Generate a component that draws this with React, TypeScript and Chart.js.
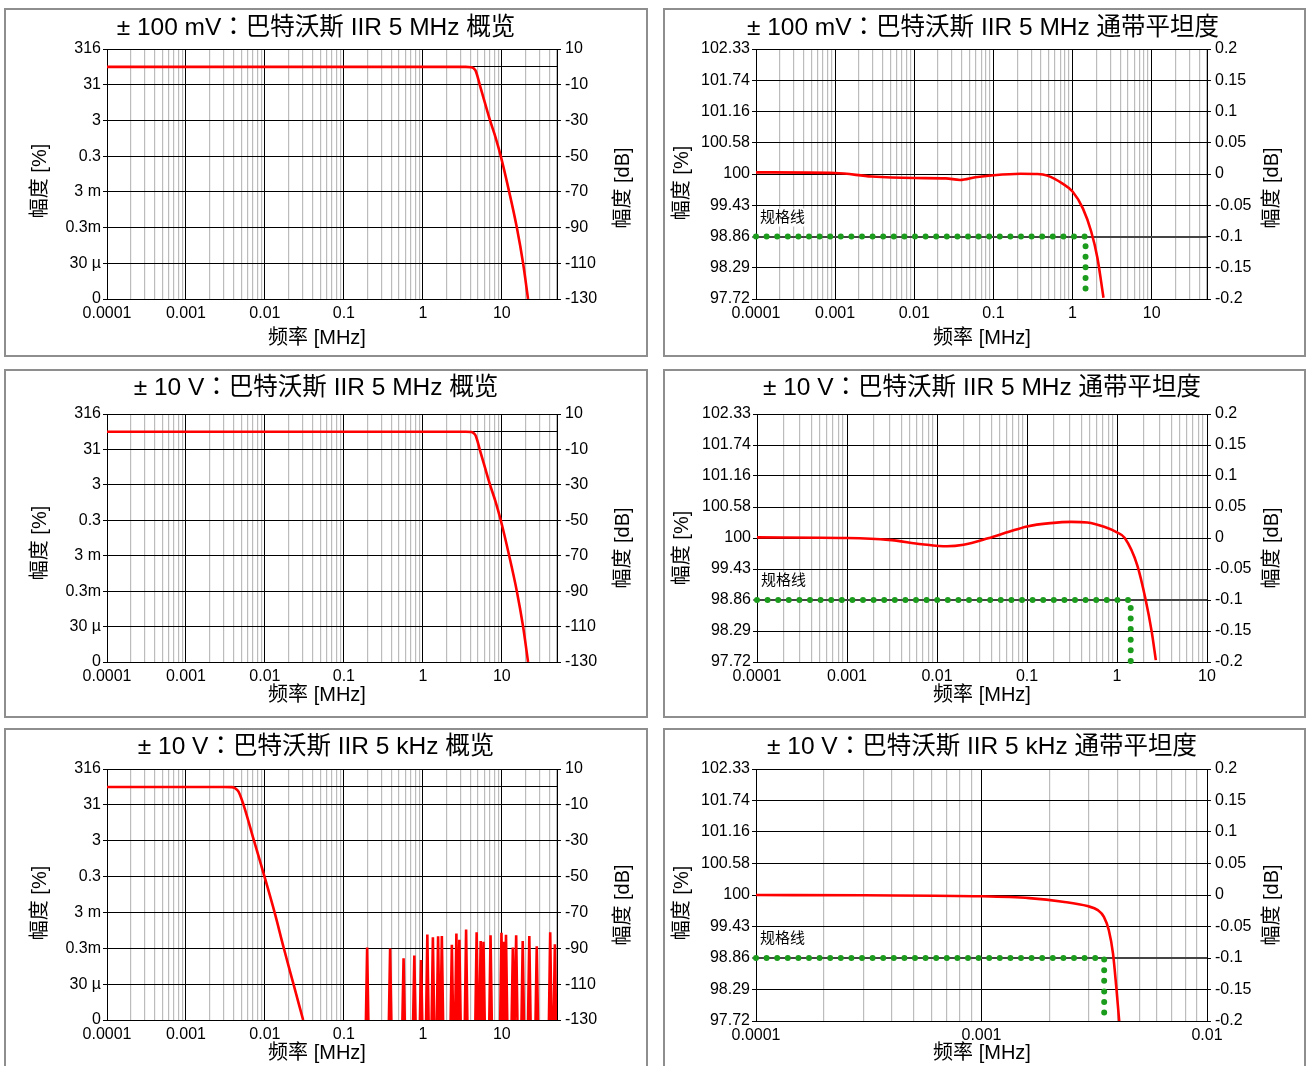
import React, { useEffect, useRef } from 'react';
import { Chart, registerables } from 'chart.js';

Chart.register(...registerables);

const FONT = "'Liberation Sans', Arial, 'Noto Sans CJK SC', sans-serif";
const TITLE_FONT = "'Liberation Sans', Arial, 'Noto Sans CJK JP', 'Noto Sans CJK SC', sans-serif";

// ---------- axis ticks / labels ----------
const X_MIN = 0.0001;
const X_DECADES = [0.0001, 0.001, 0.01, 0.1, 1, 10];
const X_DECADE_LABELS = ['0.0001', '0.001', '0.01', '0.1', '1', '10'];

const OV_DB_TICKS = [10, -10, -30, -50, -70, -90, -110, -130];
const OV_PCT_LABELS = ['316', '31', '3', '0.3', '3 m', '0.3m', '30 µ', '0'];
const OV_DB_LABELS = ['10', '-10', '-30', '-50', '-70', '-90', '-110', '-130'];
const OV_MIN = -130;
const OV_MAX = 10;
const REF_DB = 0;

const PB_DB_TICKS = [0.2, 0.15, 0.1, 0.05, 0, -0.05, -0.1, -0.15, -0.2];
const PB_PCT_LABELS = ['102.33', '101.74', '101.16', '100.58', '100', '99.43', '98.86', '98.29', '97.72'];
const PB_DB_LABELS = ['0.2', '0.15', '0.1', '0.05', '0', '-0.05', '-0.1', '-0.15', '-0.2'];
const PB_MIN = -0.2;
const PB_MAX = 0.2;
const SPEC_DB = -0.1;
const SPEC_LABEL = '规格线';

const TITLES = [
  '± 100 mV：巴特沃斯 IIR 5 MHz 概览',
  '± 100 mV：巴特沃斯 IIR 5 MHz 通带平坦度',
  '± 10 V：巴特沃斯 IIR 5 MHz 概览',
  '± 10 V：巴特沃斯 IIR 5 MHz 通带平坦度',
  '± 10 V：巴特沃斯 IIR 5 kHz 概览',
  '± 10 V：巴特沃斯 IIR 5 kHz 通带平坦度',
];
const LEFT_TITLE = '幅度 [%]';
const RIGHT_TITLE = '幅度 [dB]';
const BOTTOM_TITLE = '频率 [MHz]';

// ---------- data (frequency in MHz, amplitude in dB) ----------
// ±100 mV, 5 MHz overview
const OV1_FREQ = [0.0001, 1, 3.5, 4.1, 4.4, 4.64, 4.9, 5.25, 6.1, 7.1, 8.4, 9.7, 12.4, 15.5, 18.6, 21.5];
const OV1_DB = [0, 0, 0, -0.2, -0.8, -2, -5, -10, -20, -30, -40, -50, -70, -90, -110, -130];
// ±10 V, 5 MHz overview
const OV2_FREQ = [0.0001, 1, 3.5, 4.1, 4.4, 4.64, 4.9, 5.25, 6.1, 7.1, 8.4, 9.7, 12.4, 15.5, 18.6, 21.5];
const OV2_DB = [0, 0, 0, -0.2, -0.8, -2, -5, -10, -20, -30, -40, -50, -70, -90, -110, -130];
// ±10 V, 5 kHz overview
const OV3_FREQ = [0.0001, 0.003, 0.0038, 0.00415, 0.00463, 0.00536, 0.00727, 0.00988, 0.01326, 0.01735, 0.023, 0.0305];
const OV3_DB = [0, 0, -0.1, -0.6, -2.6, -10, -30, -50, -70, -90, -110, -130];
// noise spikes (peak frequency, peak level) in the 5 kHz overview
const NOISE_FREQ = [0.197, 0.385, 0.57, 0.78, 0.95, 1.14, 1.34, 1.56, 1.74, 2.33, 2.66, 2.9, 3.53, 4.8, 5.4, 5.86, 7.2, 9.9, 10.7, 11.3, 13.8, 15.2, 18.4, 22.3, 27.7, 41, 47];
const NOISE_DB = [-89.6, -90.2, -95.6, -94.1, -96.5, -82.3, -83.8, -83.3, -83.1, -88.1, -81.8, -85.3, -79.5, -81.0, -85.9, -86.4, -82.7, -81.4, -86.3, -82.5, -89.6, -82.7, -85.9, -83.1, -88.9, -81.0, -87.8];
const NOISE_FLOOR_DB = -140;
const SPIKE_W = 1.045;

// ±100 mV passband
const PB1_FREQ = [0.0001, 0.001, 0.0029, 0.01, 0.025, 0.038, 0.059, 0.1, 0.22, 0.36, 0.48, 0.74, 1.0, 1.35, 1.72, 2.06, 2.46];
const PB1_DB = [0.0026, 0.0016, -0.004, -0.0064, -0.007, -0.0095, -0.0053, -0.002, 0.0005, 0, -0.0026, -0.015, -0.028, -0.055, -0.092, -0.134, -0.198];
const SPEC1_EDGE = 1.46;
// ±10 V 5 MHz passband
const PB2_FREQ = [0.0001, 0.001, 0.0029, 0.0068, 0.0129, 0.0197, 0.037, 0.063, 0.1, 0.183, 0.31, 0.47, 0.72, 1.0, 1.22, 1.68, 2.07, 2.43, 2.7];
const PB2_DB = [0.001, 0, -0.003, -0.01, -0.0134, -0.011, -0.0005, 0.01, 0.0187, 0.024, 0.026, 0.025, 0.018, 0.009, 0, -0.044, -0.098, -0.151, -0.197];
const SPEC2_EDGE = 1.42;
// ±10 V 5 kHz passband
const PB3_FREQ = [0.0001, 0.0003, 0.001, 0.00163, 0.00229, 0.00295, 0.00328, 0.00349, 0.00367, 0.00383, 0.00396, 0.00408];
const PB3_DB = [0, -0.0005, -0.002, -0.005, -0.0106, -0.0176, -0.024, -0.0346, -0.056, -0.093, -0.146, -0.2];
const SPEC3_EDGE = 0.0035;

// ---------- helpers ----------
type Pt = { x: number; y: number };
const pts = (xs: number[], ys: number[]): Pt[] => xs.map((x, i) => ({ x, y: ys[i] }));
const spikes = (fs: number[], ps: number[]): Pt[] =>
  fs.flatMap((f, i) => [
    { x: f / SPIKE_W, y: NOISE_FLOOR_DB },
    { x: f, y: ps[i] },
    { x: f * SPIKE_W, y: NOISE_FLOOR_DB },
  ]);
const specPts = (edge: number): Pt[] => [
  { x: X_MIN, y: SPEC_DB },
  { x: edge, y: SPEC_DB },
  { x: edge, y: PB_MIN },
];

const isDecade = (v: number) => Math.abs(Math.log10(v) - Math.round(Math.log10(v))) < 1e-6;
const xGridValues = (min: number, max: number) => {
  const out: number[] = [];
  for (let e = Math.floor(Math.log10(min)); e <= Math.ceil(Math.log10(max)); e++) {
    for (let m = 1; m <= 9; m++) {
      const v = m * Math.pow(10, e);
      if (v >= min * (1 - 1e-9) && v <= max * (1 + 1e-9)) out.push(v);
    }
  }
  return out;
};

type PanelCfg = {
  box: number[]; // left, top, width, height (page)
  plot: number[]; // left, top, right, bottom (page)
  title: string;
  titlePos: number[];
  leftPos: number[];
  rightPos: number[];
  bottomPos: number[];
  kind: 'ov' | 'pb';
  xMax: number;
  curves: Pt[][];
  linear?: Pt[];
  spec?: number;
};

const PANELS: PanelCfg[] = [
  {
    box: [4, 8, 644, 349], plot: [107, 49, 557, 299], title: TITLES[0], titlePos: [316, 28],
    leftPos: [40, 181], rightPos: [623, 188], bottomPos: [317, 338], kind: 'ov', xMax: 50,
    curves: [pts(OV1_FREQ, OV1_DB)],
  },
  {
    box: [663, 8, 643, 349], plot: [756, 49, 1207, 299], title: TITLES[1], titlePos: [983, 28],
    leftPos: [682, 183], rightPos: [1272, 188], bottomPos: [982, 338], kind: 'pb', xMax: 50,
    curves: [pts(PB1_FREQ, PB1_DB)], spec: SPEC1_EDGE,
  },
  {
    box: [4, 369, 644, 349], plot: [107, 414, 557, 662], title: TITLES[2], titlePos: [316, 388],
    leftPos: [40, 543], rightPos: [623, 548], bottomPos: [317, 695], kind: 'ov', xMax: 50,
    curves: [pts(OV2_FREQ, OV2_DB)],
  },
  {
    box: [663, 369, 643, 349], plot: [757, 414, 1207, 662], title: TITLES[3], titlePos: [982, 388],
    leftPos: [682, 548], rightPos: [1272, 548], bottomPos: [982, 695], kind: 'pb', xMax: 10,
    curves: [pts(PB2_FREQ, PB2_DB)], spec: SPEC2_EDGE,
  },
  {
    box: [4, 728, 644, 349], plot: [107, 769, 557, 1020], title: TITLES[4], titlePos: [316, 747],
    leftPos: [40, 903], rightPos: [623, 905], bottomPos: [317, 1053], kind: 'ov', xMax: 50,
    curves: [pts(OV3_FREQ, OV3_DB)], linear: spikes(NOISE_FREQ, NOISE_DB),
  },
  {
    box: [663, 728, 643, 349], plot: [756, 769, 1207, 1021], title: TITLES[5], titlePos: [982, 747],
    leftPos: [682, 903], rightPos: [1272, 905], bottomPos: [982, 1053], kind: 'pb', xMax: 0.01,
    curves: [pts(PB3_FREQ, PB3_DB)], spec: SPEC3_EDGE,
  },
];

function buildChart(canvas: HTMLCanvasElement, cfg: PanelCfg) {
  const [bl, bt, bw, bh] = cfg.box;
  const cx = bl + 2;
  const cy = bt + 2;
  const cw = bw - 4;
  const ch = bh - 4;
  const [pl, pt, pr, pb] = cfg.plot;
  const ov = cfg.kind === 'ov';
  const yTicks = ov ? [...OV_DB_TICKS, REF_DB] : PB_DB_TICKS;
  const leftLabels = ov ? OV_PCT_LABELS : PB_PCT_LABELS;
  const rightLabels = ov ? OV_DB_LABELS : PB_DB_LABELS;
  const yMin = ov ? OV_MIN : PB_MIN;
  const yMax = ov ? OV_MAX : PB_MAX;
  const tickFont = { size: 16, family: FONT };

  const isRef = (v: number) => ov && Math.abs(v - REF_DB) < 1e-9;
  const isSpec = (v: number) => !ov && Math.abs(v - SPEC_DB) < 1e-9;

  const datasets: any[] = [];
  cfg.curves.forEach((c) =>
    datasets.push({
      data: c, borderColor: '#ff0000', borderWidth: 2.6, pointRadius: 0,
      cubicInterpolationMode: 'monotone', clip: 0,
    })
  );
  if (cfg.linear) {
    datasets.push({ data: cfg.linear, borderColor: '#ff0000', borderWidth: 2.6, pointRadius: 0, tension: 0, clip: 0 });
  }
  if (cfg.spec !== undefined) {
    datasets.push({
      data: specPts(cfg.spec), borderColor: '#1c9c1c', borderWidth: 6, pointRadius: 0, tension: 0,
      borderDash: [0, 10.6], borderCapStyle: 'round', borderJoinStyle: 'round', clip: false,
    });
  }

  const textPlugin = {
    id: 'panelText',
    afterDatasetsDraw(chart: any) {
      if (cfg.spec === undefined) return;
      const ctx = chart.ctx;
      const y = chart.scales.y.getPixelForValue(SPEC_DB) - 19;
      const x = chart.chartArea.left + 4;
      ctx.save();
      ctx.font = `15px ${FONT}`;
      const w = ctx.measureText(SPEC_LABEL).width;
      ctx.fillStyle = '#fff';
      ctx.fillRect(x - 1, y - 9, w + 3, 18);
      ctx.fillStyle = '#000';
      ctx.textAlign = 'left';
      ctx.textBaseline = 'middle';
      ctx.fillText(SPEC_LABEL, x, y);
      ctx.restore();
    },
    afterDraw(chart: any) {
      const ctx = chart.ctx;
      ctx.save();
      ctx.fillStyle = '#000';
      ctx.textAlign = 'center';
      ctx.textBaseline = 'middle';
      ctx.font = `24.5px ${TITLE_FONT}`;
      ctx.fillText(cfg.title, cfg.titlePos[0] - cx, cfg.titlePos[1] - cy);
      ctx.font = `20px ${FONT}`;
      ctx.fillText(BOTTOM_TITLE, cfg.bottomPos[0] - cx, cfg.bottomPos[1] - cy);
      const rot = (text: string, p: number[]) => {
        ctx.save();
        ctx.translate(p[0] - cx, p[1] - cy);
        ctx.rotate(-Math.PI / 2);
        ctx.fillText(text, 0, 0);
        ctx.restore();
      };
      rot(LEFT_TITLE, cfg.leftPos);
      rot(RIGHT_TITLE, cfg.rightPos);
      ctx.restore();
    },
  };

  return new Chart(canvas, {
    type: 'line',
    data: { datasets },
    plugins: [textPlugin],
    options: {
      responsive: false,
      animation: false,
      devicePixelRatio: 1,
      layout: { padding: { top: pt - cy, left: 0, right: 0, bottom: 0 } },
      plugins: { legend: { display: false }, tooltip: { enabled: false }, title: { display: false } },
      events: [],
      scales: {
        x: {
          type: 'logarithmic',
          min: X_MIN,
          max: cfg.xMax,
          afterBuildTicks: (s: any) => {
            s.ticks = xGridValues(X_MIN, cfg.xMax).map((v) => ({ value: v, major: false }));
          },
          afterFit: (s: any) => {
            s.height = cy + ch - pb;
          },
          ticks: {
            autoSkip: false, maxRotation: 0, minRotation: 0, padding: 5, color: '#000', font: tickFont,
            callback: (v: any) => {
              const i = X_DECADES.findIndex((d) => Math.abs(d - Number(v)) / d < 1e-6);
              return i >= 0 ? X_DECADE_LABELS[i] : '';
            },
          },
          grid: {
            drawTicks: false,
            color: (c: any) => (c.tick && isDecade(c.tick.value) ? '#000000' : '#bcbcbc'),
            lineWidth: (c: any) => (c.tick && isDecade(c.tick.value) ? 1 : 1.2),
          },
          border: { display: true, color: '#000', width: 1 },
        },
        y: {
          type: 'linear',
          position: 'left',
          min: yMin,
          max: yMax,
          afterBuildTicks: (s: any) => {
            s.ticks = yTicks.map((v) => ({ value: v }));
          },
          afterFit: (s: any) => {
            s.width = pl - cx;
          },
          ticks: {
            autoSkip: false, padding: 2, color: '#000', font: tickFont,
            callback: (_v: any, i: number) => leftLabels[i] ?? '',
          },
          grid: {
            tickLength: 4,
            color: (c: any) => (c.tick && isSpec(c.tick.value) ? '#444444' : '#000000'),
            lineWidth: (c: any) => (c.tick && isSpec(c.tick.value) ? 2 : 1),
            tickColor: (c: any) => (c.tick && isRef(c.tick.value) ? 'rgba(0,0,0,0)' : '#000000'),
            tickWidth: 1,
          },
          border: { display: true, color: '#000', width: 1 },
        },
        y2: {
          type: 'linear',
          position: 'right',
          min: yMin,
          max: yMax,
          afterBuildTicks: (s: any) => {
            s.ticks = yTicks.map((v) => ({ value: v }));
          },
          afterFit: (s: any) => {
            s.width = cx + cw - pr;
          },
          ticks: {
            autoSkip: false, padding: 4, color: '#000', font: tickFont,
            callback: (_v: any, i: number) => rightLabels[i] ?? '',
          },
          grid: {
            drawOnChartArea: false,
            tickLength: 4,
            color: (c: any) => (c.tick && isRef(c.tick.value) ? 'rgba(0,0,0,0)' : '#000000'),
            tickWidth: 1,
          },
          border: { display: true, color: '#000', width: 1 },
        },
      },
    } as any,
  });
}

function Panel({ cfg }: { cfg: PanelCfg }) {
  const ref = useRef<HTMLCanvasElement | null>(null);
  useEffect(() => {
    if (!ref.current) return;
    const chart = buildChart(ref.current, cfg);
    return () => chart.destroy();
  }, [cfg]);
  const [bl, bt, bw, bh] = cfg.box;
  return (
    <div
      style={{
        position: 'absolute', left: bl, top: bt, width: bw, height: bh,
        border: '2px solid #8e8e8e', boxSizing: 'border-box', background: '#fff',
      }}
    >
      <canvas ref={ref} width={bw - 4} height={bh - 4} style={{ display: 'block', width: bw - 4, height: bh - 4 }} />
    </div>
  );
}

export default function App() {
  return (
    <div style={{ position: 'absolute', left: 0, top: 0, width: 1307, height: 1066, overflow: 'hidden', background: '#fff' }}>
      {PANELS.map((p, i) => (
        <Panel key={i} cfg={p} />
      ))}
    </div>
  );
}
